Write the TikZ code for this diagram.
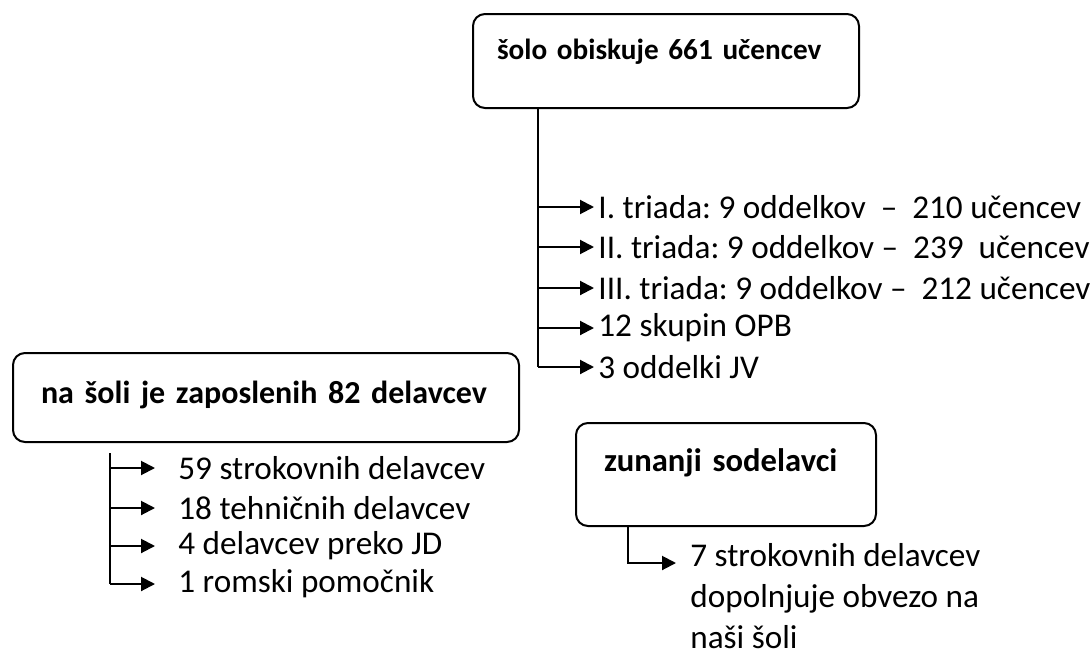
\documentclass[tikz,border=0pt]{standalone}
\usepackage{fontspec}
\setmainfont{Carlito}
\usetikzlibrary{arrows.meta}
\frenchspacing
\tikzset{
    box/.style={draw, line width=1pt, rounded corners=6pt, anchor=north west,
        inner ysep=0pt, inner xsep=14pt, align=left,
        font=\fontsize{16}{19}\selectfont\bfseries},
    item/.style={anchor=west, inner sep=2pt, font=\fontsize{16.6}{20}\selectfont},
    arr/.style={line width=1pt, -{Triangle[length=7pt,width=7pt]}},
}
\begin{document}
\begin{tikzpicture}[x=0.5pt,y=-0.5pt]
    \useasboundingbox (0,0) rectangle (1091,653);
    \begin{scope}
        \node[box, inner xsep=12pt, text width=169pt, text height=22.5pt, text depth=24.5pt, font=\fontsize{14.6}{18}\selectfont\bfseries] (solo) at (472,13) {\mbox{šolo obiskuje 661 učencev}};
        \coordinate (s0) at (538,107);
        \node[item] (t1) at (594,207) {I. triada: 9 oddelkov~ –~ 210 učencev};
        \node[item] (t2) at (594,247) {II. triada: 9 oddelkov –~ 239~ učencev};
        \node[item] (t3) at (594,288) {III. triada: 9 oddelkov –~ 212 učencev};
        \node[item] (t4) at (594,328) {12 skupin OPB};
        \node[item] (t5) at (594,367) {3 oddelki JV};
        \draw[line width=1pt] (s0) -- (s0 |- t5.west);
        \foreach \t in {t1,t2,t3,t4,t5}
            \draw[arr] (s0 |- \t.west) -- (\t.west);
    \end{scope}
    \begin{scope}
        \node[box, text width=225pt, text height=25pt, text depth=19.5pt] (zaposleni) at (12,352) {\mbox{na šoli je zaposlenih 82 delavcev}};
        \coordinate (z0) at (110,453);
        \node[item, inner xsep=11.5pt] (d1) at (155,468) {59 strokovnih delavcev};
        \node[item, inner xsep=11.5pt] (d2) at (155,508) {18 tehničnih delavcev};
        \node[item, inner xsep=11.5pt] (d3) at (155,546) {4 delavcev preko JD};
        \node[item, inner xsep=11.5pt] (d4) at (155,584) {1 romski pomočnik};
        \draw[line width=1pt] (z0) -- (z0 |- d4.west);
        \foreach \d in {d1,d2,d3,d4}
            \draw[arr] (z0 |- \d.west) -- (\d.west);
    \end{scope}
    \begin{scope}
        \node[box, text width=122pt, text height=24pt, text depth=27.5pt, font=\fontsize{16.3}{19}\selectfont\bfseries] (zunanji) at (575,422) {\mbox{zunanji sodelavci}};
        \coordinate (u0) at (628,525);
        \coordinate (u1) at (676,563);
        \node[item, anchor=north west, align=left, font=\fontsize{16.6}{20.5}\selectfont] (sodelavci) at (686,539) {7 strokovnih delavcev\\dopolnjuje obvezo na\\naši šoli};
        \draw[arr] (u0) |- (u1);
    \end{scope}
\end{tikzpicture}
\end{document}
